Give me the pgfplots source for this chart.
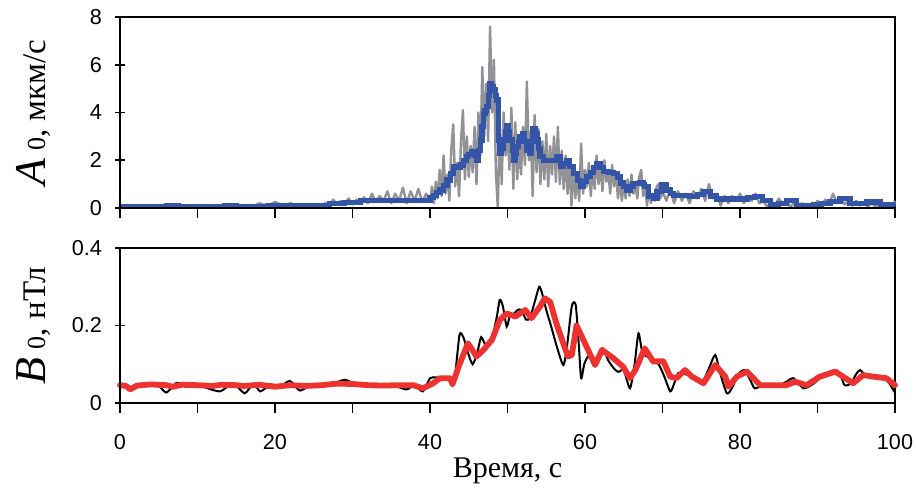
\documentclass[border=0pt]{standalone}
\usepackage{pgfplots}
\pgfplotsset{compat=1.18}
\usepackage{fontspec}
\setmainfont{Liberation Serif}
\newfontfamily\arialf{Liberation Sans}
\definecolor{grayline}{RGB}{145,145,150}
\definecolor{blueline}{RGB}{52,84,168}
\definecolor{redline}{RGB}{238,50,48}

\begin{document}
\begin{tikzpicture}
\useasboundingbox (0,0) rectangle (458pt,246.5pt);
\pgfplotsset{
  myaxis/.style={
    scale only axis, width=387.5pt, xmin=0, xmax=100,
    axis line style={line width=0.7pt},
    xtick={0,20,...,100}, minor xtick={10,30,...,90},
    tick style={black, line width=0.9pt},
    major tick length=5pt, minor tick length=5pt,
    xtick align=outside, ytick align=center,
    xtick pos=bottom, ytick pos=left,
    tick label style={font=\arialf\fontsize{10.8}{12}\selectfont},
    /pgf/number format/assume math mode=true,
    yticklabel style={xshift=-3pt},
    xticklabel style={yshift=-7pt},
    clip=false,
    after end axis/.code={\draw[line width=1.3pt] (rel axis cs:0,1) -- (rel axis cs:0,0) -- (rel axis cs:1,0);},
  }
}

% ---------- top panel ----------
\begin{axis}[myaxis, at={(60pt,142.5pt)}, anchor=south west,
  height=95.5pt, ymin=0, ymax=8, ytick={0,2,4,6,8},
  xticklabels={},
  ylabel={{\fontsize{22}{22}\selectfont\itshape A}\hspace{4pt}{\fontsize{13}{15}\selectfont 0}{\fontsize{16.5}{18}\selectfont, мкм/с}},
  ylabel style={at={(axis description cs:-0.112,0.5)}, anchor=center},
]
\addplot[grayline, line width=1.2pt, line join=round] coordinates {
(0,0.05)(1,0.1)(2,0.03)(3,0.12)(4,0.05)(5,0.1)(6,0.15)(7,0.08)(8,0.12)(9,0.04)
(10,0.1)(11,0.06)(12,0.1)(13,0.05)(14,0.15)(15,0.08)(16,0.12)(17,0.05)(18,0.2)(19,0.08)
(20,0.25)(21,0.1)(22,0.2)(23,0.05)(24,0.15)(25,0.08)(26,0.12)
(26.5,0.2)(27,0.1)(27.5,0.35)(28,0.15)(28.5,0.3)(29,0.2)(29.5,0.4)(30,0.15)(30.5,0.35)(31,0.2)
(31.5,0.45)(32,0.2)(32.5,0.6)(33,0.25)(33.5,0.5)(34,0.3)(34.5,0.7)(35,0.2)(35.5,0.6)(36,0.3)
(36.5,0.85)(37,0.2)(37.5,0.7)(38,0.3)(38.5,0.8)(39,0.25)(39.5,0.6)
(40,0.3)(40.25,0.9)(40.5,0.2)(40.75,1.1)(41,0.4)(41.25,1.6)(41.5,0.5)(41.75,2.2)
(42,0.6)(42.25,1.4)(42.5,0.3)(42.75,2.5)(43,3.5)(43.25,0.9)(43.5,1.9)(43.75,0.5)
(44,2.8)(44.25,4.1)(44.5,1.2)(44.75,3.0)(45,1.3)(45.25,2.6)(45.5,1.5)(45.75,3.4)
(46,1.0)(46.25,4.0)(46.5,2.2)(46.75,5.9)(47,3.0)(47.25,5.2)(47.5,2.8)(47.75,7.6)
(48,4.0)(48.25,6.2)(48.5,1.5)(48.75,0.0)(49,3.5)(49.25,1.0)(49.5,4.0)(49.75,2.2)
(50,3.2)(50.25,1.6)(50.5,4.2)(50.75,0.8)(51,3.6)(51.25,1.2)(51.5,2.6)(51.75,1.4)
(52,3.4)(52.25,1.8)(52.5,5.3)(52.75,2.0)(53,3.2)(53.25,0.5)(53.5,3.9)(53.75,1.5)
(54,3.3)(54.25,1.0)(54.5,2.8)(54.75,1.2)(55,3.1)(55.25,0.9)(55.5,2.6)(55.75,1.4)
(56,3.0)(56.25,1.1)(56.5,3.4)(56.75,1.0)(57,2.4)(57.25,0.8)(57.5,2.2)(57.75,0.6)
(58,1.9)(58.25,0.1)(58.5,1.8)(58.75,0.4)(59,1.3)(59.25,0.3)(59.5,2.7)(59.75,0.6)
(60,1.6)(60.25,0.9)(60.5,1.9)(60.75,0.5)(61,1.7)(61.25,0.8)(61.5,2.2)(61.75,1.0)
(62,1.8)(62.25,0.7)(62.5,2.0)(62.75,1.1)(63,1.6)(63.25,0.6)(63.5,1.8)(63.75,0.9)
(64,1.5)(64.25,0.4)(64.5,1.2)(64.75,0.3)(65,1.0)(65.25,0.4)(65.5,1.2)(65.75,0.5)
(66,1.4)(66.25,0.6)(66.5,1.0)(66.75,0.4)(67,1.3)(67.25,1.6)(67.5,0.5)(67.75,1.0)
(68,0.1)(68.25,0.8)(68.5,0.2)(68.75,0.6)(69,0.3)(69.25,0.9)(69.5,1.0)(69.75,0.4)(70,0.7)
(70.5,0.3)(71,0.8)(71.5,0.2)(72,0.7)(72.5,0.3)(73,0.6)(73.5,0.2)(74,0.7)(74.5,0.4)(75,0.8)
(75.5,0.3)(76,1.0)(76.5,0.4)(77,0.6)(77.5,0.1)(78,0.5)(78.5,0.2)(79,0.5)(79.5,0.3)(80,0.6)
(80.5,0.2)(81,0.5)(81.5,0.3)(82,0.6)(82.5,0.2)(83,0.3)(83.5,0.05)(84,0.3)(84.5,0.1)(85,0.4)
(85.5,0.2)(86,0.3)(86.5,0.05)(87,0.2)(87.5,0.05)(88,0.2)(88.5,0.1)(89,0.15)(89.5,0.05)(90,0.3)
(90.5,0.1)(91,0.35)(91.5,0.15)(92,0.6)(92.5,0.2)(93,0.45)(93.5,0.15)(94,0.3)(94.5,0.1)(95,0.3)
(95.5,0.1)(96,0.25)(96.5,0.05)(97,0.2)(97.5,0.05)(98,0.2)(98.5,0.1)(99,0.15)(99.5,0.05)(100,0.3)
};
\addplot[blueline, line width=2.6pt, const plot] coordinates {
(0,0.05)(3,0.07)(6,0.12)(7.5,0.07)(13.5,0.1)(15,0.06)(19,0.1)(20,0.08)(22,0.1)(24,0.12)
(25,0.08)(27,0.2)(29,0.22)(31,0.3)(35,0.3)(37,0.33)(39.6,0.33)(40,0.45)(40.4,0.54)(40.8,0.65)
(41.3,0.75)(41.7,0.95)(42.2,1.17)(42.6,1.45)(43.0,1.73)(43.4,1.7)(43.9,1.8)(44.3,2.0)(44.7,2.15)(45.0,2.25)
(45.4,2.36)(45.7,2.2)(46.0,2.0)(46.3,2.4)(46.5,2.85)(46.7,3.4)(46.9,3.97)(47.1,4.1)(47.3,4.24)(47.5,4.7)
(47.7,5.2)(47.9,5.1)(48.2,4.94)(48.4,4.7)(48.6,4.52)(48.8,2.85)(49.0,2.3)(49.2,2.5)(49.5,2.85)(49.7,3.2)
(49.9,3.47)(50.1,3.2)(50.3,2.85)(50.6,2.4)(50.8,2.0)(51.0,2.3)(51.2,2.57)(51.4,2.8)(51.6,2.99)(52.0,3.13)
(52.2,2.8)(52.5,2.43)(52.9,2.3)(53.1,2.8)(53.3,3.34)(53.6,3.1)(53.8,2.85)(54.0,2.5)(54.2,2.15)(54.6,2.0)
(55.5,2.0)(56.3,2.15)(56.8,1.73)(57.2,1.85)(57.6,2.0)(58.0,1.75)(58.5,1.45)(59.0,1.15)(59.4,0.89)(59.8,1.1)
(60.2,1.31)(60.7,1.5)(61.1,1.7)(61.5,1.87)(62.0,1.7)(62.4,1.52)(63.0,1.5)(63.7,1.45)(64.2,1.3)(64.6,1.05)
(65.0,0.9)(65.4,0.75)(65.8,0.9)(66.2,1.03)(67.0,1.05)(67.5,1.0)(67.7,0.89)(68.2,0.5)(68.8,0.4)(69.3,0.7)
(69.9,0.96)(70.5,0.75)(71.0,0.6)(71.4,0.54)(73.5,0.47)(74.5,0.55)(75.3,0.68)(76.2,0.5)(77.0,0.38)(80.0,0.38)
(81.0,0.45)(81.9,0.47)(82.9,0.3)(83.9,0.13)(85,0.2)(86.0,0.33)(87.3,0.08)(89.5,0.13)(90.5,0.2)(91.6,0.26)
(92.9,0.4)(94.2,0.2)(96.3,0.25)(98.1,0.13)(99.8,0.05)(100,0.05)
};
\end{axis}

% ---------- bottom panel ----------
\begin{axis}[myaxis, at={(60pt,45pt)}, anchor=south west,
  height=77.5pt, ymin=0, ymax=0.4, ytick={0,0.2,0.4},
  ylabel={{\fontsize{22}{22}\selectfont\itshape B}\hspace{4pt}{\fontsize{13}{15}\selectfont 0}{\fontsize{16.5}{18}\selectfont, нТл}},
  ylabel style={at={(axis description cs:-0.112,0.5)}, anchor=center},
  xlabel={\fontsize{15}{17}\selectfont Время, с},
  xlabel style={at={(axis description cs:0.5,0)}, anchor=base, yshift=-37pt},
]
\addplot[black, line width=1pt, smooth, tension=0.4] coordinates {
(0,0.048)(1,0.04)(1.5,0.036)(2.5,0.045)(4,0.046)(5,0.044)(6,0.027)(7.3,0.052)(8.5,0.044)(10,0.046)
(11,0.04)(12.9,0.03)(14.6,0.05)(16.1,0.025)(17.2,0.05)(18.1,0.03)(19.5,0.048)(20.5,0.04)(21.9,0.057)(23.2,0.032)
(24.5,0.045)(26,0.046)(27.5,0.05)(29,0.06)(30.5,0.048)(32,0.046)(33.5,0.045)(35,0.045)(36.1,0.04)(37,0.035)
(38,0.045)(39.1,0.03)(40,0.064)(40.8,0.066)(41.5,0.064)(42.5,0.064)(43.1,0.05)(43.8,0.175)(44.3,0.17)(44.9,0.13)
(45.5,0.1)(46.1,0.13)(46.6,0.17)(47.2,0.15)(48.0,0.17)(48.6,0.22)(49.0,0.266)(49.4,0.25)(49.9,0.197)(50.3,0.225)
(50.8,0.23)(51.3,0.24)(51.8,0.24)(52.4,0.215)(52.9,0.22)(53.5,0.26)(54.1,0.3)(54.5,0.28)(55.0,0.24)(55.6,0.2)
(56.3,0.15)(57.2,0.098)(57.7,0.15)(58.3,0.25)(58.8,0.253)(59.2,0.15)(59.5,0.064)(59.9,0.1)(60.4,0.12)(61.0,0.11)
(61.6,0.12)(62.3,0.14)(63.0,0.11)(63.7,0.09)(64.3,0.08)(65.0,0.085)(65.8,0.038)(66.4,0.1)(66.9,0.18)(67.4,0.13)
(68.0,0.12)(68.8,0.11)(69.5,0.1)(70.2,0.07)(71.0,0.03)(71.5,0.05)(72.0,0.077)(72.8,0.075)(73.6,0.07)(74.5,0.06)
(75.3,0.06)(76.0,0.09)(76.8,0.124)(77.4,0.08)(78.3,0.025)(79.0,0.04)(79.8,0.075)(80.6,0.085)(81.3,0.06)(81.9,0.038)
(83,0.045)(85,0.046)(86.0,0.055)(86.9,0.064)(88.2,0.038)(89.5,0.05)(90.5,0.07)(91.5,0.08)(92.4,0.085)(93.0,0.07)
(93.5,0.046)(94.3,0.05)(95.0,0.075)(95.5,0.085)(96.3,0.07)(97.5,0.065)(98.5,0.065)(99.3,0.05)(99.9,0.03)(100,0.045)
};
\addplot[redline, line width=2.9pt, line join=round, line cap=round] coordinates {
(0,0.046)(0.8,0.044)(1.3,0.035)(2.2,0.045)(4,0.048)(6,0.046)(6.8,0.042)(8,0.047)(10,0.046)(12,0.044)
(13,0.047)(15,0.046)(16,0.044)(18,0.047)(20,0.042)(22,0.046)(24,0.044)(26,0.046)(28,0.05)(30,0.049)
(32,0.046)(34,0.045)(36.1,0.046)(37.8,0.046)(39.1,0.038)(40.4,0.051)(41.3,0.064)(42.6,0.064)(42.9,0.048)(43.7,0.094)
(44.9,0.154)(46.0,0.12)(46.9,0.137)(48.0,0.163)(49.0,0.214)(49.9,0.231)(51.0,0.223)(52.3,0.24)(53.1,0.219)(54.2,0.249)
(54.8,0.27)(55.5,0.261)(56.3,0.206)(57.2,0.154)(57.8,0.12)(58.3,0.124)(58.9,0.2)(59.6,0.171)(60.4,0.137)(61.3,0.098)
(62.2,0.137)(63.7,0.115)(64.9,0.094)(65.8,0.064)(66.5,0.085)(67.7,0.141)(68.8,0.107)(70.1,0.108)(71.0,0.068)(71.8,0.064)
(72.9,0.085)(73.8,0.068)(75.3,0.051)(76.8,0.098)(78.1,0.068)(78.5,0.042)(79.6,0.068)(80.9,0.081)(82.6,0.046)(86.0,0.046)
(87.1,0.055)(88.6,0.046)(90.3,0.068)(92.3,0.081)(93.3,0.068)(94.6,0.051)(95.9,0.072)(97.2,0.068)(98.9,0.064)(100,0.046)
};
\end{axis}
\end{tikzpicture}
\end{document}
